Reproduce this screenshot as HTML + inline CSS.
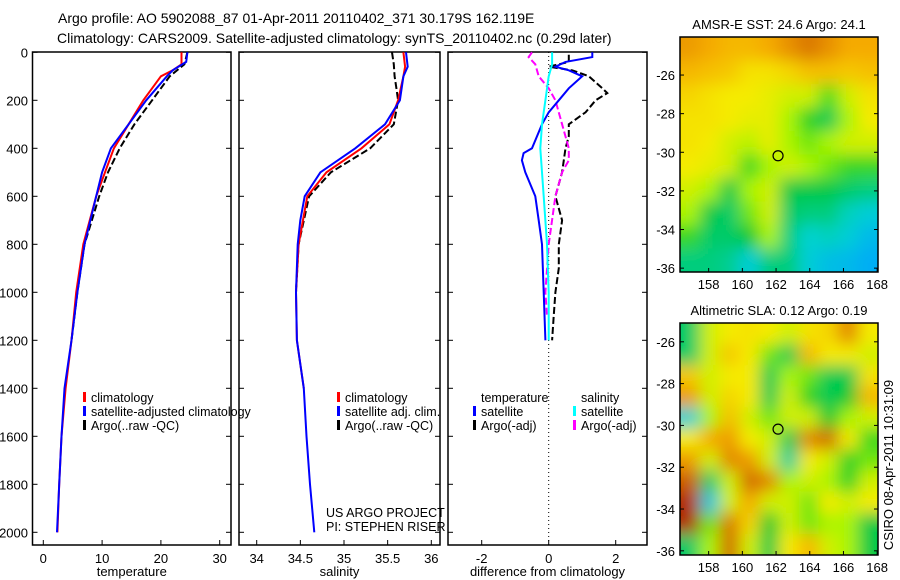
<!DOCTYPE html>
<html><head><meta charset="utf-8"><style>
body{margin:0;background:#fff;}
svg{display:block;font-family:"Liberation Sans",sans-serif;}
text{fill:#000;}
</style></head><body>
<svg id="fig" width="900" height="580" viewBox="0 0 900 580">
<defs>
<filter id="blur" x="-10%" y="-10%" width="120%" height="120%"><feGaussianBlur stdDeviation="8"/></filter>
<clipPath id="clipTop"><rect x="680" y="37" width="198" height="235"/></clipPath>
<clipPath id="clipBot"><rect x="680" y="323" width="198" height="232"/></clipPath>
</defs>
<text x="58" y="23" font-size="14">Argo profile: AO 5902088_87 01-Apr-2011 20110402_371 30.179S 162.119E</text>
<text x="57" y="43" font-size="14">Climatology: CARS2009. Satellite-adjusted climatology: synTS_20110402.nc (0.29d later)</text>
<g id="g"></g>
<text transform="translate(893,465) rotate(-90)" font-size="13" text-anchor="middle">CSIRO 08-Apr-2011 10:31:09</text>
</svg>
<script>
// ---- data ----
const depthTicks=[0,200,400,600,800,1000,1200,1400,1600,1800,2000];
const tempTicks=[0,10,20,30];
const salTicks=[34,34.5,35,35.5,36];
const diffTicks=[-2,0,2];
const tClimD=[0,50,75,100,150,200,300,400,500,600,800,1000,1200,1400,1600,1800,2000];
const tClimV=[23.5,23.5,22,20,18.5,17,14.5,12,10.5,9,6.8,5.6,4.8,3.8,3.1,2.7,2.4];
const tSatD=[0,40,75,100,200,300,400,500,600,800,1000,1200,1400,1600,1800,2000];
const tSatV=[24.5,24.3,22,21,17.5,14.5,11.5,10,9,7,5.8,4.8,3.6,3.1,2.7,2.33];
const tArgD=[0,50,100,200,300,400,500,600,800,1000,1200];
const tArgV=[24.5,24,21.5,18.5,15.5,13,11,9.5,7,5.8,4.8];
const sClimD=[0,60,100,200,300,400,500,600,800,1000,1200,1400];
const sClimV=[35.68,35.7,35.68,35.62,35.52,35.2,34.8,34.58,34.48,34.45,34.46,34.54];
const sSatD=[0,60,100,200,300,400,500,600,700,800,1000,1200,1400,1600,1800,2000];
const sSatV=[35.71,35.73,35.68,35.64,35.47,35.13,34.73,34.55,34.5,34.47,34.45,34.46,34.54,34.57,34.61,34.66];
const sArgD=[0,50,100,150,200,300,400,500,600,800,1000];
const sArgV=[35.55,35.57,35.58,35.6,35.62,35.57,35.3,34.85,34.6,34.48,34.45];
const dTSatD=[0,20,40,60,75,100,150,200,250,300,400,420,450,500,600,700,800,1000,1200];
const dTSatV=[1.3,1.3,0.5,0.2,0.6,1.0,0.6,0.3,0,-0.2,-0.5,-0.75,-0.8,-0.7,-0.4,-0.3,-0.2,-0.15,-0.1];
const dTArgD=[10,40,60,75,100,150,170,200,250,300,350,400,500,600,700,800,900,1000,1100,1200];
const dTArgV=[0.6,0.6,0,0.7,1.2,1.6,1.75,1.4,1.1,0.6,0.6,0.5,0.4,0.2,0.4,0.3,0.3,0.2,0.15,0.1];
const dSSatD=[0,50,100,200,300,400,500,600,800,1000,1200];
const dSSatV=[0.1,0.1,0,-0.1,-0.2,-0.25,-0.2,-0.15,-0.05,0,0];
const dSArgD=[0,20,50,100,150,200,300,400,450,500,600,800,1000,1100];
const dSArgV=[-0.5,-0.6,-0.4,-0.3,0,0.2,0.4,0.6,0.6,0.4,0.2,0,-0.1,-0.05];
const latTicks=[26,28,30,32,34,36];
const lonTicks=[158,160,162,164,166,168];
const sstGrid=[
[.78,.75,.72,.72,.75,.8,.85,.8,.75,.75],
[.72,.7,.68,.62,.62,.65,.7,.7,.68,.7],
[.65,.62,.6,.6,.58,.55,.55,.42,.55,.62],
[.62,.62,.6,.58,.58,.5,.38,.32,.5,.6],
[.62,.6,.55,.52,.58,.5,.45,.5,.55,.55],
[.6,.58,.55,.4,.5,.55,.5,.45,.4,.4],
[.55,.5,.33,.5,.55,.33,.33,.33,.3,.28],
[.5,.33,.3,.45,.55,.3,.28,.28,.22,.18],
[.4,.3,.3,.35,.5,.28,.2,.22,.18,.1],
[.28,.28,.26,.18,.28,.28,.18,.12,.1,.05]];
const slaGrid=[
[.3,.55,.6,.62,.6,.55,.62,.65,.82,.6],
[.3,.55,.68,.6,.45,.32,.72,.6,.6,.55],
[.68,.55,.6,.6,.32,.5,.45,.32,.32,.62],
[.78,.55,.65,.6,.32,.55,.38,.32,.35,.72],
[.2,.5,.7,.55,.45,.55,.55,.35,.5,.55],
[.6,.75,.78,.6,.55,.32,.82,.88,.6,.4],
[.78,.55,.82,.78,.55,.25,.6,.55,.38,.45],
[.9,.3,.55,.88,.82,.5,.55,.5,.38,.55],
[.97,.15,.55,.75,.55,.55,.45,.6,.55,.6],
[.97,.45,.85,.65,.35,.55,.45,.5,.5,.33],
[.3,.5,.88,.55,.33,.6,.72,.55,.5,.33]];
const sstLabel="AMSR-E SST: 24.6 Argo: 24.1";
const slaLabel="Altimetric SLA: 0.12 Argo: 0.19";
const argoLon=162.119, argoLat=30.179;

const NS="http://www.w3.org/2000/svg";
const G=document.getElementById('g');
function mk(tag,attrs,parent){const e=document.createElementNS(NS,tag);for(const k in attrs)e.setAttribute(k,attrs[k]);(parent||G).appendChild(e);return e;}
const yD=d=>52.3+0.24*d;
const BOT=545, TOP=52;
const panels=[
 {x0:32.5,x1:231,sx:v=>43.3+5.88*v,ticks:tempTicks,lab:"temperature",name:"temperature"},
 {x0:239,x1:440,sx:v=>256.7+87.3*(v-34),ticks:salTicks,lab:"salinity",name:"salinity"},
 {x0:448,x1:647,sx:v=>548.7+33.5*v,ticks:diffTicks,lab:"difference from climatology",name:"difference"}];
panels.forEach((p,i)=>{
 const r=mk('rect',{x:p.x0,y:TOP,width:p.x1-p.x0,height:BOT-TOP,fill:'none',stroke:'#000','stroke-width':1.5});
 
 
 p.ticks.forEach(t=>{const x=p.sx(t);
  mk('line',{x1:x,x2:x,y1:BOT,y2:BOT-5,stroke:'#000'});
  const tx=mk('text',{x:x,y:BOT+18,'font-size':13,'text-anchor':'middle'});tx.textContent=t;
  
  });
 depthTicks.forEach(d=>{mk('line',{x1:p.x0,x2:p.x0+5,y1:yD(d),y2:yD(d),stroke:'#000'});mk('line',{x1:p.x1,x2:p.x1-5,y1:yD(d),y2:yD(d),stroke:'#000'});});
 const xl=mk('text',{x:(p.x0+p.x1)/2,y:576,'font-size':13,'text-anchor':'middle'});xl.textContent=p.lab;
 
 
});
depthTicks.forEach(d=>{const t=mk('text',{x:28,y:yD(d)+5,'font-size':13,'text-anchor':'end'});t.textContent=d;
 
 });
const zl=mk('line',{x1:panels[2].sx(0),x2:panels[2].sx(0),y1:TOP,y2:BOT,stroke:'#000','stroke-dasharray':'1,3'});


function line(p,D,V,color,dash,name){
 const pts=D.map((d,i)=>p.sx(V[i]).toFixed(1)+','+yD(d).toFixed(1)).join(' ');
 const a={points:pts,fill:'none',stroke:color,'stroke-width':2};if(dash)a['stroke-dasharray']=dash;
 const e=mk('polyline',a);
 
 
}
const [P1,P2,P3]=panels;
line(P1,tArgD,tArgV,'#000','7,3','temp-argo-line');
line(P1,tClimD,tClimV,'#f00',null,'temp-climatology-line');
line(P1,tSatD,tSatV,'#00f',null,'temp-satellite-line');
line(P2,sArgD,sArgV,'#000','7,3','sal-argo-line');
line(P2,sClimD,sClimV,'#f00',null,'sal-climatology-line');
line(P2,sSatD,sSatV,'#00f',null,'sal-satellite-line');
line(P3,dTArgD,dTArgV,'#000','7,3','diff-temp-argo-line');
line(P3,dSArgD,dSArgV,'#f0f','7,3','diff-sal-argo-line');
line(P3,dTSatD,dTSatV,'#00f',null,'diff-temp-satellite-line');
line(P3,dSSatD,dSSatV,'#0ff',null,'diff-sal-satellite-line');
function leg(x,y,color,txt,name){
 mk('rect',{x:x,y:y-10,width:3,height:10,fill:color});
 const t=mk('text',{x:x+8,y:y,'font-size':12.5});t.textContent=txt;
 
 
}
leg(83,402,'#f00','climatology','legend-temp-climatology');
leg(83,416,'#00f','satellite-adjusted climatology','legend-temp-satellite');
leg(83,430,'#000','Argo(..raw -QC)','legend-temp-argo');
leg(337,402,'#f00','climatology','legend-sal-climatology');
leg(337,416,'#00f','satellite adj. clim.','legend-sal-satellite');
leg(337,430,'#000','Argo(..raw -QC)','legend-sal-argo');
let t=mk('text',{x:481,y:402,'font-size':12.5});t.textContent='temperature';


t=mk('text',{x:581,y:402,'font-size':12.5});t.textContent='salinity';


leg(473,416,'#00f','satellite','legend-diff-temp-satellite');
leg(473,430,'#000','Argo(-adj)','legend-diff-temp-argo');
leg(573,416,'#0ff','satellite','legend-diff-sal-satellite');
leg(573,430,'#f0f','Argo(-adj)','legend-diff-sal-argo');
t=mk('text',{x:326,y:517,'font-size':12.5});t.textContent='US ARGO PROJECT';


t=mk('text',{x:326,y:531,'font-size':12.5});t.textContent='PI: STEPHEN RISER';


const stops=[[0,[0,160,255]],[.2,[0,210,210]],[.35,[0,200,50]],[.5,[170,245,0]],[.6,[245,235,0]],[.75,[245,170,0]],[.9,[205,95,0]],[1,[165,25,0]]];
function cmap(v){for(let i=1;i<stops.length;i++){if(v<=stops[i][0]){const a=stops[i-1],b=stops[i],f=(v-a[0])/(b[0]-a[0]);return 'rgb('+a[1].map((c,j)=>Math.round(c+(b[1][j]-c)*f)).join(',')+')';}}return 'rgb(165,25,0)';}
function map(grid,y0,y1,latTop,latBot,clip,label,name){
 const x0=680,x1=878,lon0=156.3,lon1=168.05;
 const sx=l=>x0+(l-lon0)/(lon1-lon0)*(x1-x0);
 const sy=l=>y0+(l-latTop)/(latBot-latTop)*(y1-y0);
 const tt=mk('text',{x:(x0+x1)/2,y:y0-8,'font-size':13,'text-anchor':'middle'});tt.textContent=label;
 
 
 const cg=mk('g',{'clip-path':'url(#'+clip+')'});
 
 
 const bg=mk('g',{filter:'url(#blur)'},cg);
 const R=grid.length,C=grid[0].length,cw=(x1-x0)/C,ch=(y1-y0)/R;
 for(let r=-2;r<=R+1;r++)for(let c=-2;c<=C+1;c++){
  const rr=Math.min(R-1,Math.max(0,r)),cc=Math.min(C-1,Math.max(0,c));
  const cell=mk('rect',{x:x0+c*cw,y:y0+r*ch,width:cw+1,height:ch+1,fill:cmap(grid[rr][cc])},bg);
  
  
 }
 mk('rect',{x:x0,y:y0,width:x1-x0,height:y1-y0,fill:'none',stroke:'#000','stroke-width':1.5});
 latTicks.forEach(l=>{const y=sy(l);mk('line',{x1:x0,x2:x0+4,y1:y,y2:y,stroke:'#000'});mk('line',{x1:x1,x2:x1-4,y1:y,y2:y,stroke:'#000'});
  const tl=mk('text',{x:x0-5,y:y+5,'font-size':13,'text-anchor':'end'});tl.textContent='-'+l;
  
  });
 lonTicks.forEach(l=>{const x=sx(l);mk('line',{x1:x,x2:x,y1:y1,y2:y1-4,stroke:'#000'});
  const tl=mk('text',{x:x,y:y1+17,'font-size':13,'text-anchor':'middle'});tl.textContent=l;
  
  });
 const c=mk('circle',{cx:sx(argoLon),cy:sy(argoLat),r:5,fill:'none',stroke:'#000','stroke-width':1.2});
 
 
}
map(sstGrid,37,272,24.03,36.2,'clipTop',sstLabel,'sst-map');
map(slaGrid,323,555,25.1,36.2,'clipBot',slaLabel,'sla-map');
</script>
</body></html>
